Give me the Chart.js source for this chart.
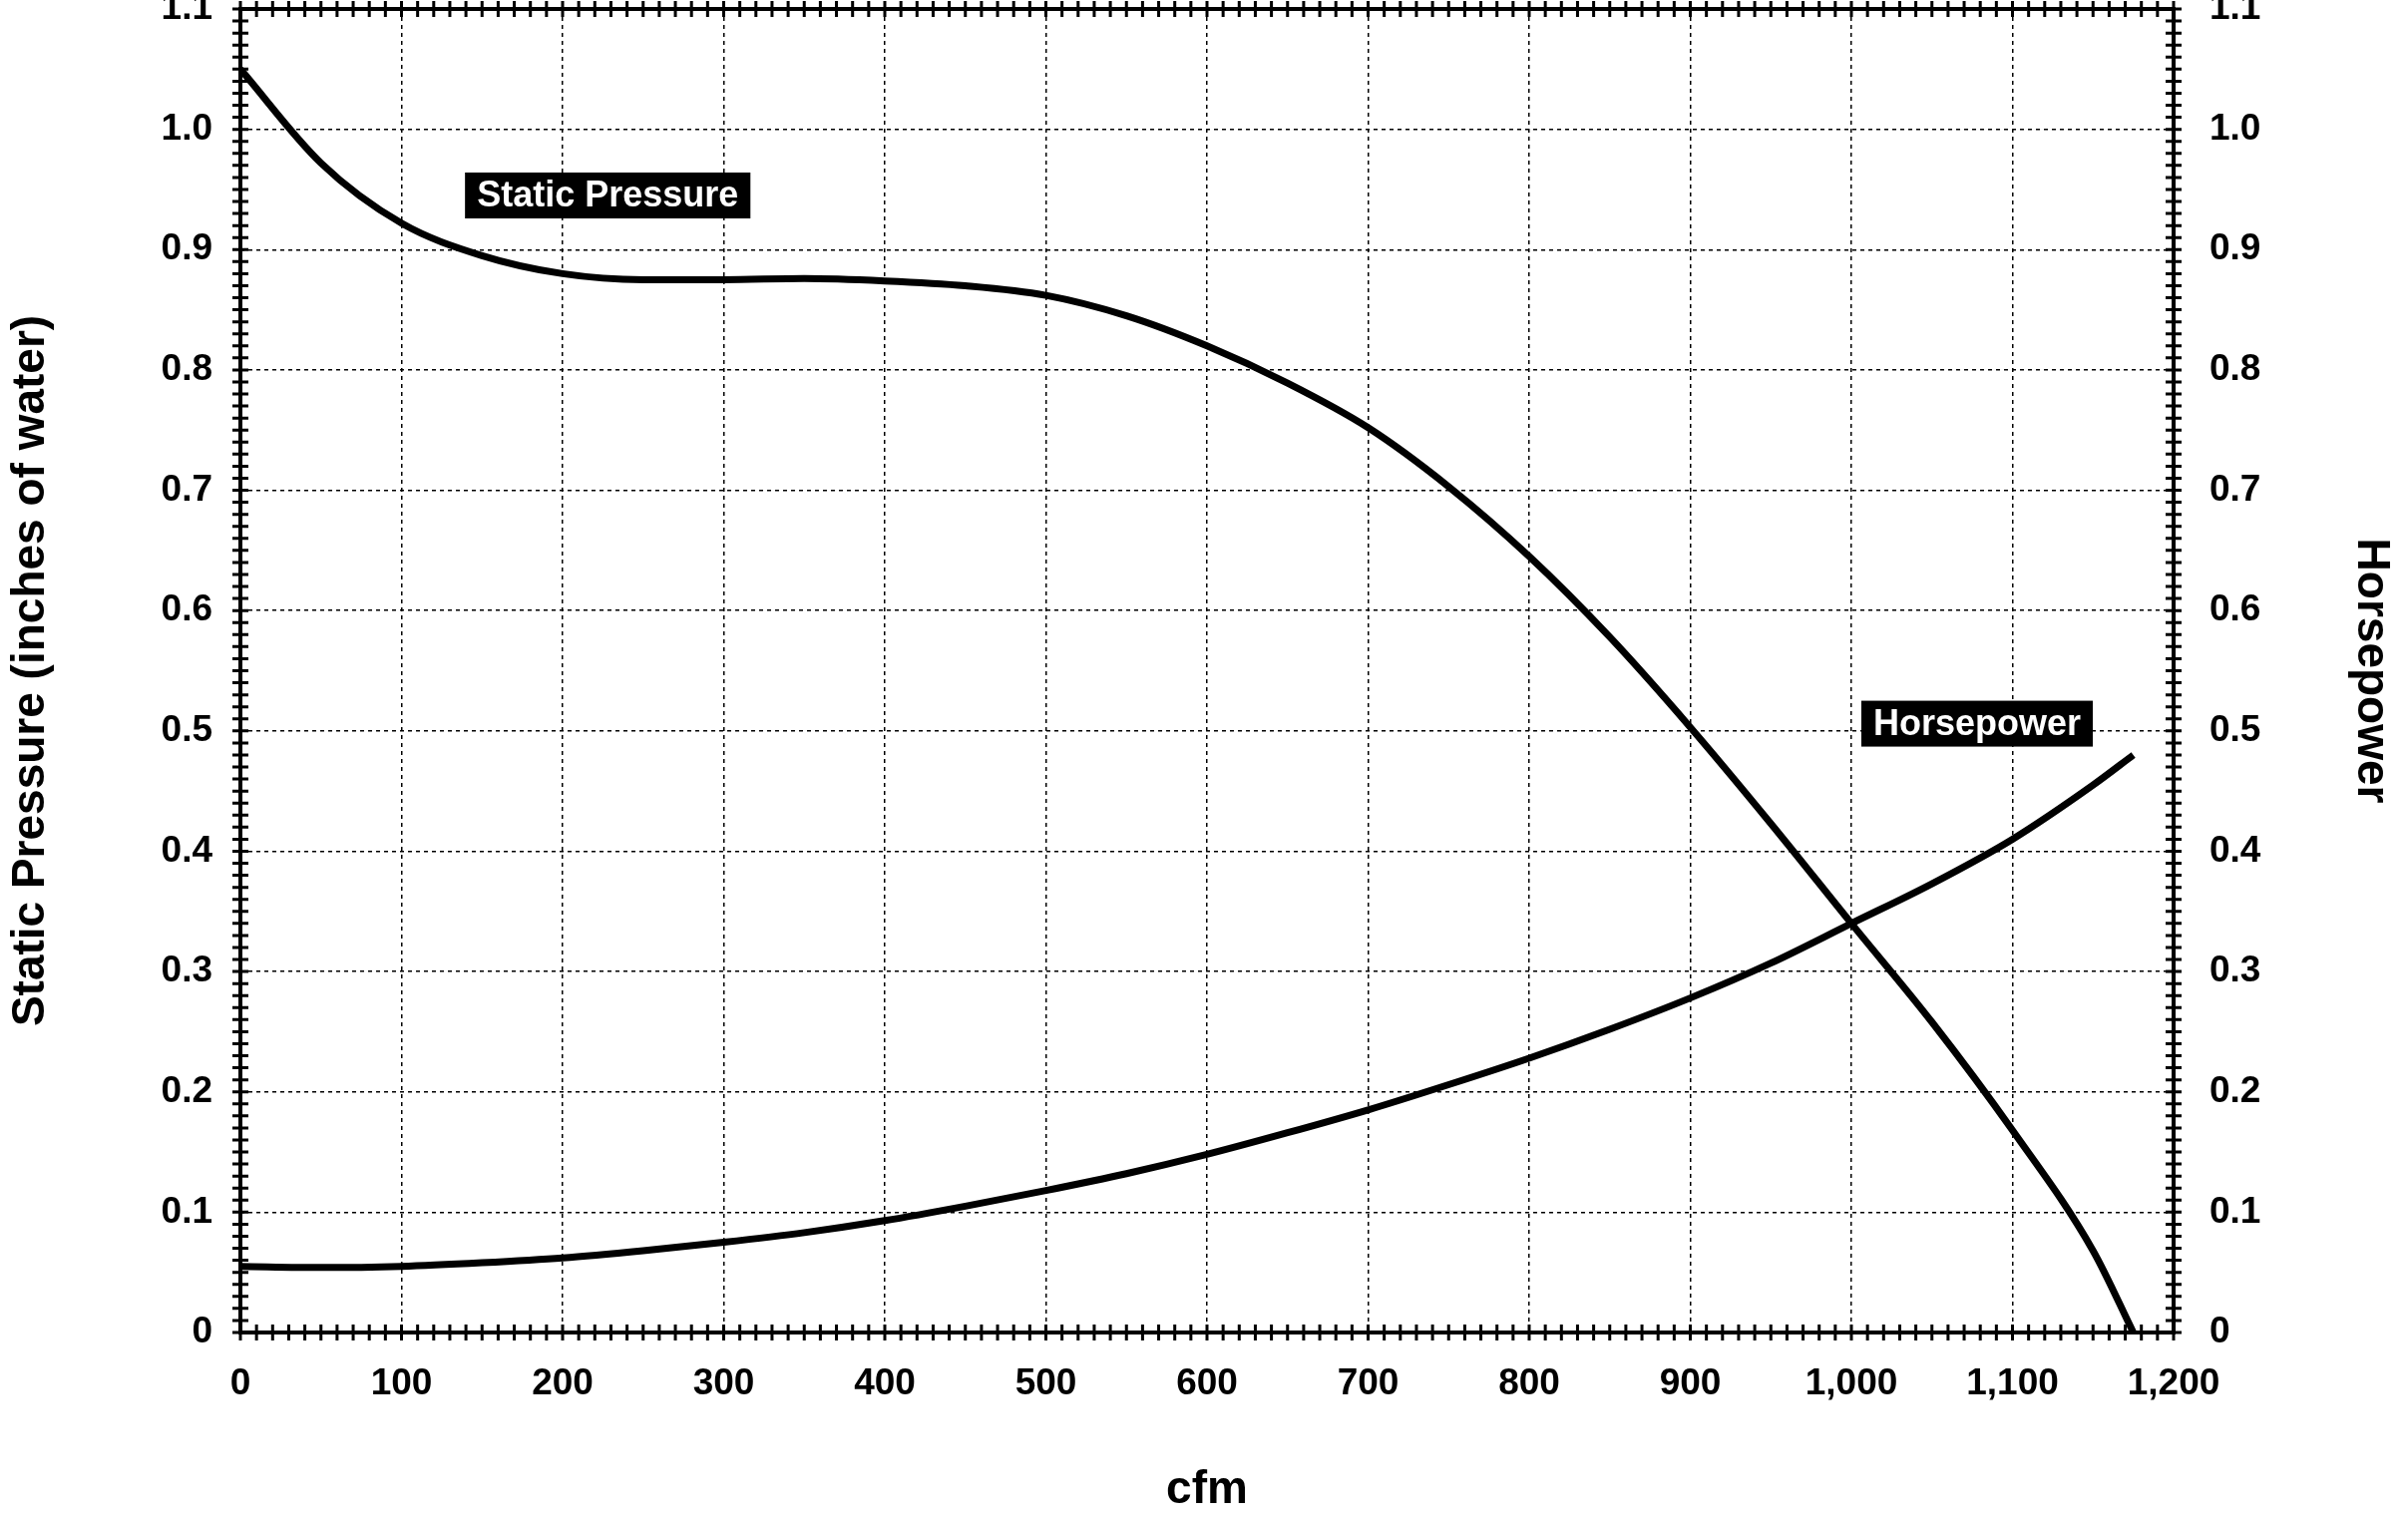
<!DOCTYPE html>
<html>
<head>
<meta charset="utf-8">
<script src="https://cdn.jsdelivr.net/npm/chart.js@4"></script>
<style>body{margin:0;background:#fff}</style>
</head>
<body>
<canvas id="c" width="2414" height="1526"></canvas>
<script>
// cfm values and readings
const cfm = [0, 50, 100, 150, 200, 250, 300, 350, 400, 450, 500, 550, 600, 650, 700, 750, 800, 850, 900, 950, 1000, 1050, 1100, 1150, 1175];
const staticPressure = [1.05, 0.972, 0.922, 0.895, 0.88, 0.875, 0.875, 0.876, 0.874, 0.87, 0.862, 0.845, 0.82, 0.789, 0.752, 0.703, 0.645, 0.578, 0.503, 0.423, 0.34, 0.258, 0.168, 0.068, 0];
const horsepower = [0.055, 0.054, 0.055, 0.058, 0.062, 0.068, 0.075, 0.083, 0.093, 0.105, 0.118, 0.132, 0.148, 0.166, 0.185, 0.206, 0.228, 0.252, 0.278, 0.307, 0.34, 0.373, 0.41, 0.455, 0.48];
const labels = [
  { text: 'Static Pressure', x: 228, y: 0.945 },
  { text: 'Horsepower', x: 1078, y: 0.506 }
];

const FONT = '"Liberation Sans", Arial, sans-serif';
const toPts = ys => cfm.map((x, i) => ({ x: x, y: ys[i] }));

const extras = {
  id: 'extras',
  afterDraw(chart) {
    const c = chart.ctx, a = chart.chartArea;
    const xs = chart.scales.x, ys = chart.scales.y;
    c.save();
    c.strokeStyle = '#000';
    c.lineWidth = 4;
    c.strokeRect(a.left, a.top, a.right - a.left, a.bottom - a.top);
    c.lineWidth = 3;
    c.beginPath();
    for (let v = 0; v <= 1200; v += 10) {
      const px = xs.getPixelForValue(v);
      c.moveTo(px, a.bottom - 8); c.lineTo(px, a.bottom + 8);
      c.moveTo(px, a.top - 8); c.lineTo(px, a.top + 8);
    }
    for (let k = 0; k <= 110; k++) {
      const py = ys.getPixelForValue(k / 100);
      c.moveTo(a.left - 8, py); c.lineTo(a.left + 8, py);
      c.moveTo(a.right - 8, py); c.lineTo(a.right + 8, py);
    }
    c.stroke();
    c.font = 'bold 36px ' + FONT;
    c.textAlign = 'center';
    c.textBaseline = 'middle';
    labels.forEach(l => {
      const px = xs.getPixelForValue(l.x), py = ys.getPixelForValue(l.y);
      const w = c.measureText(l.text).width + 24;
      c.fillStyle = '#000';
      c.fillRect(px - w / 2, py - 23, w, 46);
      c.fillStyle = '#fff';
      c.fillText(l.text, px, py + 1);
    });
    c.restore();
  }
};

const tickFont = { family: FONT, size: 37, weight: 'bold' };
const titleFont = { family: FONT, size: 46, weight: 'bold' };
const grid = { color: '#000', lineWidth: 1.5, drawTicks: false };
const border = { display: false, dash: [4, 4] };
const fmtY = v => v === 0 ? '0' : v.toFixed(1);

new Chart(document.getElementById('c'), {
  type: 'line',
  data: {
    datasets: [
      { data: toPts(staticPressure), borderColor: '#000', borderWidth: 7, pointRadius: 0, cubicInterpolationMode: 'monotone', yAxisID: 'y' },
      { data: toPts(horsepower), borderColor: '#000', borderWidth: 7, pointRadius: 0, cubicInterpolationMode: 'monotone', yAxisID: 'y' }
    ]
  },
  options: {
    responsive: false,
    animation: false,
    devicePixelRatio: 1,
    layout: { padding: { top: 9 } },
    plugins: { legend: { display: false }, tooltip: { enabled: false } },
    scales: {
      x: {
        type: 'linear', min: 0, max: 1200,
        ticks: { stepSize: 100, font: tickFont, color: '#000', padding: 30, callback: v => v.toLocaleString('en-US') },
        grid: grid,
        border: border,
        title: { display: true, text: 'cfm', font: titleFont, color: '#000', padding: { top: 48 } },
        afterFit: s => { s.height = 190; s.paddingRight = 0; s.paddingLeft = 0; }
      },
      y: {
        position: 'left', min: 0, max: 1.1,
        ticks: { stepSize: 0.1, font: tickFont, color: '#000', padding: 28, callback: fmtY },
        grid: grid,
        border: border,
        title: { display: true, text: 'Static Pressure (inches of water)', font: titleFont, color: '#000', padding: { bottom: 10 } },
        afterFit: s => { s.width = 241; s.paddingTop = 0; s.paddingBottom = 0; }
      },
      y2: {
        position: 'right', min: 0, max: 1.1,
        ticks: { stepSize: 0.1, font: tickFont, color: '#000', padding: 28, callback: fmtY },
        grid: { display: false },
        border: { display: false },
        title: { display: true, text: 'Horsepower', font: titleFont, color: '#000', padding: { top: 10 } },
        afterFit: s => { s.width = 235; s.paddingTop = 0; s.paddingBottom = 0; }
      }
    }
  },
  plugins: [extras]
});
</script>
</body>
</html>
